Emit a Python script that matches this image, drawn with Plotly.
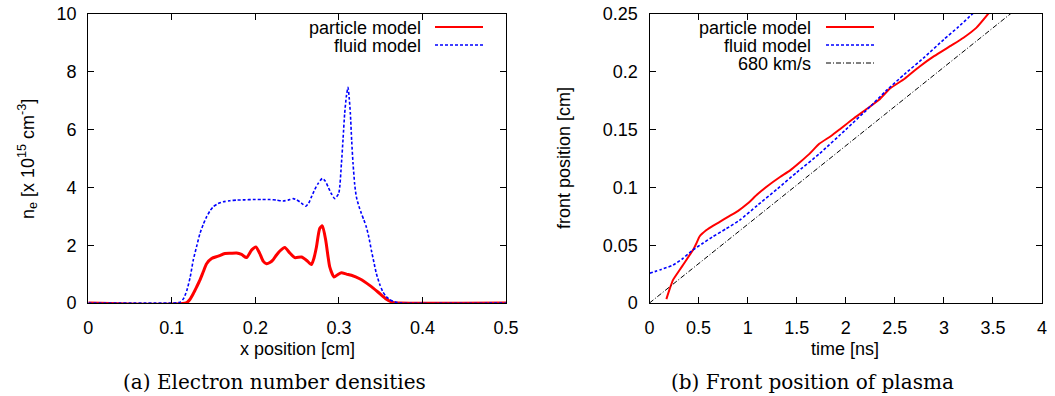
import plotly.graph_objects as go

W, H = 1055, 396

# ---------------- data: (a) electron number densities ----------------
x_particle = [0, 0.117, 0.1216, 0.1256, 0.1296, 0.1336, 0.1376, 0.1416, 0.1476, 0.1555,
              0.1635, 0.1705, 0.1775, 0.1834, 0.1894, 0.1954, 0.2006, 0.2053, 0.2093, 0.2133,
              0.2173, 0.2213, 0.2253, 0.2293, 0.2352, 0.2412, 0.2472, 0.2552, 0.2611, 0.2671,
              0.2701, 0.2731, 0.2770, 0.2802, 0.2842, 0.2870, 0.2890, 0.2941, 0.2985, 0.3030,
              0.3090, 0.3149, 0.3248, 0.3368, 0.3467, 0.3559, 0.3647, 0.3727, 0.5]
n_particle = [0, 0, 0.12, 0.32, 0.55, 0.79, 1.08, 1.36, 1.54, 1.62,
              1.71, 1.72, 1.73, 1.68, 1.57, 1.83, 1.94, 1.71, 1.45, 1.36,
              1.40, 1.50, 1.66, 1.80, 1.92, 1.73, 1.57, 1.59, 1.48, 1.33,
              1.55, 1.94, 2.58, 2.67, 2.17, 1.60, 1.25, 0.90, 0.98, 1.05,
              1.00, 0.96, 0.84, 0.61, 0.38, 0.15, 0.02, 0, 0]

x_fluid = [0, 0.1, 0.106, 0.110, 0.114, 0.118, 0.122, 0.1256, 0.1296, 0.1336, 0.1376,
           0.1416, 0.1455, 0.1495, 0.1555, 0.1615, 0.1695, 0.1775, 0.1874, 0.1974, 0.2073,
           0.2173, 0.2252, 0.2332, 0.2392, 0.2452, 0.2492, 0.2531, 0.2567, 0.2603, 0.2637,
           0.2671, 0.2710, 0.2750, 0.2802, 0.2836, 0.2870, 0.2910, 0.2950, 0.2997, 0.3030,
           0.3050, 0.3069, 0.3089, 0.3109, 0.3123, 0.3137, 0.3153, 0.3169, 0.3189, 0.3209,
           0.3239, 0.3269, 0.3298, 0.3328, 0.3358, 0.3388, 0.3418, 0.3448, 0.3488, 0.3527,
           0.3567, 0.3607, 0.3667, 0.3727, 0.5]
n_fluid = [0, 0, 0.01, 0.03, 0.15, 0.44, 0.90, 1.48, 1.95, 2.40, 2.72,
           2.98, 3.18, 3.33, 3.44, 3.50, 3.54, 3.56, 3.57, 3.58, 3.58,
           3.58, 3.56, 3.53, 3.56, 3.61, 3.57, 3.50, 3.42, 3.35, 3.45,
           3.67, 3.92, 4.13, 4.31, 4.22, 4.02, 3.78, 3.61, 3.79, 4.83,
           5.70, 6.56, 7.15, 7.46, 7.10, 6.56, 5.60, 4.83, 4.10, 3.67,
           3.35, 3.10, 2.88, 2.63, 2.28, 1.83, 1.42, 1.02, 0.65, 0.38,
           0.22, 0.12, 0.04, 0, 0]

# ---------------- data: (b) front position of plasma ----------------
t_particle = [0.172, 0.205, 0.24, 0.307, 0.35, 0.408, 0.445, 0.476, 0.51, 0.577,
              0.65, 0.712, 0.80, 0.90, 1.0, 1.1, 1.2, 1.33, 1.43, 1.53,
              1.63, 1.73, 1.85, 1.95, 2.07, 2.2, 2.34, 2.45, 2.6, 2.75,
              2.9, 3.08, 3.2, 3.33, 3.46]
front_particle = [0.0034, 0.012, 0.020, 0.0286, 0.034, 0.0414, 0.046, 0.0512, 0.0575, 0.0629,
                  0.0670, 0.0700, 0.0745, 0.0795, 0.0860, 0.0940, 0.1010, 0.1090, 0.1145, 0.1215,
                  0.1290, 0.1377, 0.1445, 0.1510, 0.1590, 0.1670, 0.1758, 0.1855, 0.1940, 0.2044,
                  0.2135, 0.2230, 0.2295, 0.2380, 0.2510]

t_fluid = [0, 0.12, 0.24, 0.34, 0.44, 0.54, 0.64, 0.78, 0.915, 1.1,
           1.3, 1.5, 1.73, 2.0, 2.25, 2.41, 2.6, 2.8, 3.0, 3.15, 3.3]
front_fluid = [0.0257, 0.0290, 0.0328, 0.0385, 0.0457, 0.0515, 0.0571, 0.0642, 0.0714, 0.0845,
               0.0985, 0.1130, 0.1290, 0.1500, 0.1700, 0.1835, 0.1980, 0.2125, 0.2280, 0.2390, 0.2508]

t_ref = [0, 4]
front_ref = [0, 0.272]   # 680 km/s

# tick labels
xa_ticks = [0, 0.1, 0.2, 0.3, 0.4, 0.5]
xa_text = ["0", "0.1", "0.2", "0.3", "0.4", "0.5"]
ya_ticks = [0, 2, 4, 6, 8, 10]
ya_text = ["0", "2", "4", "6", "8", "10"]
xb_ticks = [0, 0.5, 1, 1.5, 2, 2.5, 3, 3.5, 4]
xb_text = ["0", "0.5", "1", "1.5", "2", "2.5", "3", "3.5", "4"]
yb_ticks = [0, 0.05, 0.1, 0.15, 0.2, 0.25]
yb_text = ["0", "0.05", "0.1", "0.15", "0.2", "0.25"]

# ---------------- styles ----------------
RED = "#ff0000"
BLUE = "#0000ff"
FONT = "Liberation Sans, Arial, sans-serif"
SERIF = "DejaVu Serif, Liberation Serif, serif"
FS = 18


def px(x):
    return x / W


def py(y):
    return 1 - y / H


fig = go.Figure()

fig.add_trace(go.Scatter(x=x_particle, y=n_particle, mode="lines", xaxis="x", yaxis="y",
                         line=dict(color=RED, width=3, shape="spline", smoothing=0.6),
                         showlegend=False))
fig.add_trace(go.Scatter(x=x_fluid, y=n_fluid, mode="lines", xaxis="x", yaxis="y",
                         line=dict(color=BLUE, width=1.6, dash="3px,2px", shape="spline", smoothing=0.6),
                         showlegend=False))

fig.add_trace(go.Scatter(x=t_particle, y=front_particle, mode="lines", xaxis="x2", yaxis="y2",
                         line=dict(color=RED, width=2, shape="spline", smoothing=0.5),
                         showlegend=False))
fig.add_trace(go.Scatter(x=t_fluid, y=front_fluid, mode="lines", xaxis="x2", yaxis="y2",
                         line=dict(color=BLUE, width=1.6, dash="3px,2px", shape="spline", smoothing=0.5),
                         showlegend=False))
fig.add_trace(go.Scatter(x=t_ref, y=front_ref, mode="lines", xaxis="x2", yaxis="y2",
                         line=dict(color="#000000", width=1, dash="5px,2px,1px,2px"),
                         showlegend=False))

axis_common = dict(showgrid=False, zeroline=False, showline=True, linecolor="black",
                   linewidth=1.3, mirror="allticks", ticks="inside", ticklen=6,
                   tickcolor="black", tickwidth=1.2, automargin=False,
                   tickfont=dict(family=FONT, size=FS, color="black"))

fig.update_layout(
    width=W, height=H, autosize=False,
    margin=dict(l=0, r=0, t=0, b=0, pad=0, autoexpand=False),
    paper_bgcolor="white", plot_bgcolor="white",
    xaxis=dict(domain=[px(88.3), px(506)], range=[0, 0.5], anchor="y",
               tickvals=xa_ticks, ticktext=xa_text, ticklabelstandoff=8, **axis_common),
    yaxis=dict(domain=[py(303), py(14)], range=[0, 10], anchor="x",
               tickvals=ya_ticks, ticktext=ya_text, ticklabelstandoff=7, **axis_common),
    xaxis2=dict(domain=[px(649.5), px(1042)], range=[0, 4], anchor="y2",
                tickvals=xb_ticks, ticktext=xb_text, ticklabelstandoff=8, **axis_common),
    yaxis2=dict(domain=[py(303), py(14)], range=[0, 0.25], anchor="x2",
                tickvals=yb_ticks, ticktext=yb_text, ticklabelstandoff=7, **axis_common),
)

annotations = []


def text(x, y, s, size=FS, family=FONT, xanchor="center", angle=0):
    annotations.append(dict(x=px(x), y=py(y), xref="paper", yref="paper", text=s,
                            showarrow=False, xanchor=xanchor, yanchor="middle",
                            textangle=angle, font=dict(family=family, size=size, color="black")))


# axis titles
text(297, 349, "x position [cm]")
text(845, 349, "time [ns]")
text(27, 159, "n<sub>e</sub> [x 10<sup>15</sup> cm<sup>-3</sup>]", angle=-90)
text(564, 158, "front position [cm]", angle=-90)

# captions
text(274, 382, "(a) Electron number densities", size=20, family=SERIF)
text(812, 382, "(b) Front position of plasma", size=20, family=SERIF)

# legends (gnuplot style: text right-aligned, sample on the right)
text(423, 28, "particle model", xanchor="right")
text(423, 46, "fluid model", xanchor="right")
text(813, 28, "particle model", xanchor="right")
text(813, 46, "fluid model", xanchor="right")
text(813, 64, "680 km/s", xanchor="right")

shapes = []


def sample(x0, x1, y, color, width, dash):
    shapes.append(dict(type="line", xref="paper", yref="paper", x0=px(x0), x1=px(x1),
                       y0=py(y), y1=py(y), line=dict(color=color, width=width, dash=dash)))


sample(435, 483, 27, RED, 2, "solid")
sample(435, 483, 45, BLUE, 1.6, "3px,2px")
sample(826, 874, 27, RED, 2, "solid")
sample(826, 874, 45, BLUE, 1.6, "3px,2px")
sample(826, 874, 63, "#000000", 1, "5px,2px,1px,2px")

fig.update_layout(annotations=annotations, shapes=shapes)

fig.write_html("out.html",
               config={"displayModeBar": False, "responsive": False},
               post_script="document.body.style.margin='0px';document.body.style.overflow='hidden';")
